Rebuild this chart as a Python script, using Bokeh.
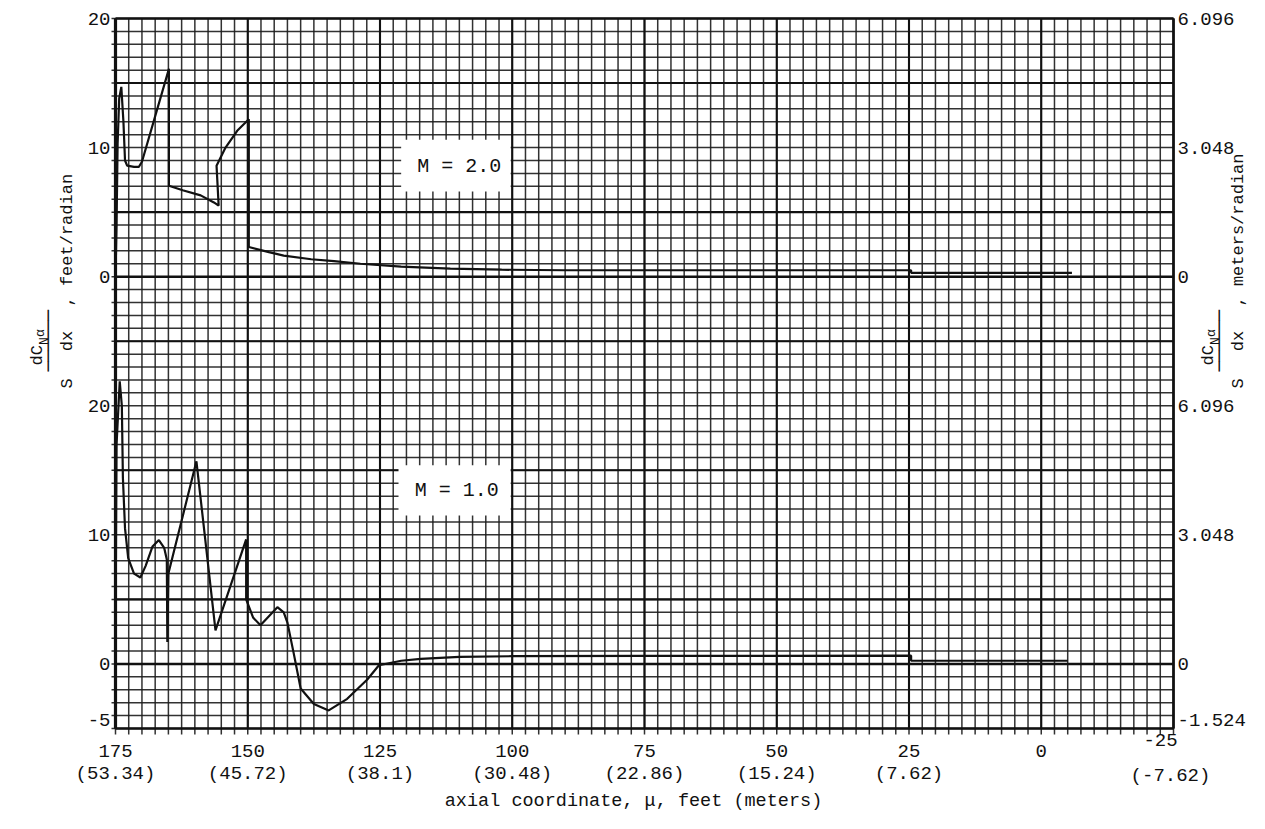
from bokeh.plotting import figure
from bokeh.models import Range1d
from bokeh.core.properties import value
from bokeh.embed import file_html
from bokeh.resources import INLINE
import numpy as np

# ---------------- data ----------------
# M = 2.0 (upper panel): axial coordinate (feet) and S dCNa/dx (feet/radian)
m2_x = [175.0, 174.8, 174.6, 174.3, 173.9, 173.5, 173.2, 172.8, 171.5, 170.6, 170.0,
        164.9, 164.9, 162.3, 158.9, 156.4, 155.5, 155.9, 154.2, 152.0, 149.8, 149.8,
        146.0, 143.2, 138.0, 133.7, 128.7, 121.0, 111.7, 102.0, 90.0, 70.0, 50.0,
        24.6, 24.6, 10.0, -5.8]
m2_y = [0.0, 4.0, 10.3, 13.8, 14.7, 12.0, 9.0, 8.6, 8.5, 8.5, 8.9,
        16.1, 7.05, 6.7, 6.3, 5.75, 5.5, 8.6, 10.0, 11.3, 12.2, 2.3,
        1.9, 1.63, 1.35, 1.2, 1.0, 0.78, 0.62, 0.54, 0.5, 0.5, 0.5,
        0.5, 0.3, 0.3, 0.3]

# M = 1.0 (lower panel)
m1_x = [175.0, 174.9, 174.8, 174.2, 173.8, 173.6, 173.2, 172.6, 171.5, 170.3, 169.3,
        168.0, 166.8, 165.8, 165.3, 165.2, 165.0, 159.7, 156.1, 150.3, 150.3, 149.0,
        147.6, 146.0, 144.4, 143.2, 142.5, 141.3, 140.0, 137.5, 134.7, 131.2, 127.4,
        125.2, 121.0, 117.3, 110.0, 100.0, 75.0, 50.0, 24.6, 24.6, 10.0, -5.0]
m1_y = [0.0, 10.0, 17.0, 21.9, 20.0, 14.4, 10.5, 8.2, 7.0, 6.7, 7.6,
        9.1, 9.6, 9.0, 8.1, 1.7, 7.0, 15.7, 2.6, 9.65, 5.0, 3.6,
        3.0, 3.7, 4.4, 4.0, 3.2, 0.8, -1.9, -3.1, -3.6, -2.7, -1.2,
        -0.1, 0.25, 0.4, 0.55, 0.6, 0.62, 0.62, 0.64, 0.25, 0.25, 0.25]

x_ticks = [175, 150, 125, 100, 75, 50, 25, 0, -25]
x_tick_feet = ["175", "150", "125", "100", "75", "50", "25", "0", "-25"]
x_tick_meters = ["(53.34)", "(45.72)", "(38.1)", "(30.48)", "(22.86)", "(15.24)",
                 "(7.62)", "", "(-7.62)"]

upper_offset = 30          # upper panel's zero sits 30 units above the lower panel's zero
upper_tick_vals = [0, 10, 20]
lower_tick_vals = [-5, 0, 10, 20]
left_labels_upper = ["0", "10", "20"]
left_labels_lower = ["-5", "0", "10", "20"]
right_labels_upper = ["0", "3.048", "6.096"]
right_labels_lower = ["-1.524", "0", "3.048", "6.096"]

panel_titles = ["M = 2.0", "M = 1.0"]
x_title = "axial coordinate, \u03bc, feet (meters)"

FONT = "Liberation Mono"
INK = "#111111"

# ---------------- geometry (canvas pixels) ----------------
W, H = 1249, 813
FL, FR, FT, FB = 115, 1173, 18, 728          # graph-paper area inside the canvas
X0, X1 = 175.0, -25.0                         # feet, reversed axis
Y0, Y1 = -5.0, 50.0
ppx = (FR - FL) / (X0 - X1)
ppy = (FB - FT) / (Y1 - Y0)

p = figure(width=W, height=H,
           x_range=Range1d(X0 + FL / ppx, X1 - (W - FR) / ppx),
           y_range=Range1d(Y0 - (H - FB) / ppy, Y1 + FT / ppy),
           output_backend="svg", toolbar_location=None,
           x_axis_location=None, y_axis_location=None,
           min_border=0, min_border_left=0, min_border_right=0,
           min_border_top=0, min_border_bottom=0)
p.grid.visible = False
p.outline_line_color = None
p.background_fill_color = "white"
p.border_fill_color = "white"


def px2x(xp):   # canvas x pixel -> data x
    return X0 - (xp - FL) / ppx


def py2y(yp):   # canvas y pixel -> data y
    return Y1 - (yp - FT) / ppy


# ---------------- graph paper ----------------
minor_x = np.arange(X1, X0 + 0.01, 2.5)
major_x = np.arange(X1, X0 + 0.01, 25.0)
minor_y = np.arange(Y0, Y1 + 0.01, 1.0)
major_y = np.arange(Y0 + 10, Y1, 10.0)
ext_b = 6 / ppy
ext_l = 4 / ppx
p.segment(x0=minor_x, y0=np.full(len(minor_x), Y0 - ext_b), x1=minor_x, y1=np.full(len(minor_x), Y1),
          line_color="#1c1c1c", line_width=1.5, line_alpha=0.9)
p.segment(x0=np.full(len(minor_y), X0 + ext_l), y0=minor_y, x1=np.full(len(minor_y), X1), y1=minor_y,
          line_color="#1c1c1c", line_width=1.5, line_alpha=0.9)
p.segment(x0=major_x, y0=np.full(len(major_x), Y0), x1=major_x, y1=np.full(len(major_x), Y1),
          line_color=INK, line_width=2.1)
p.segment(x0=np.full(len(major_y), X0), y0=major_y, x1=np.full(len(major_y), X1), y1=major_y,
          line_color=INK, line_width=2.1)
# frame
p.segment(x0=[X0, X1, X0, X0], y0=[Y0, Y0, Y1, Y0], x1=[X0, X1, X1, X1], y1=[Y1, Y1, Y1, Y0],
          line_color=INK, line_width=[3.2, 2.4, 2.4, 2.4])
# zero lines of both panels
p.segment(x0=[X0, X0], y0=[0, upper_offset], x1=[X1, X1], y1=[0, upper_offset],
          line_color=INK, line_width=2.4)

# ---------------- panel title boxes ----------------
box_specs = [(121.0, 100.3, 36.6, 40.6, 110.0, 38.5),
             (121.5, 100.3, 11.5, 15.4, 110.5, 13.4)]
for title, (l, r, b, t, tx, ty) in zip(panel_titles, box_specs):
    p.quad(left=[l], right=[r], bottom=[b], top=[t], fill_color="white", line_color=None)
    p.text(x=[tx], y=[ty], text=[title], text_font=value(FONT), text_font_size="20px",
           text_align="center", text_baseline="middle", text_color=INK)

# ---------------- curves ----------------
p.line(m2_x, [v + upper_offset for v in m2_y], line_color=INK, line_width=2.2)
p.line(m1_x, m1_y, line_color=INK, line_width=2.2)

# ---------------- tick labels ----------------
tk = dict(text_font=value(FONT), text_font_size="19px", text_color=INK,
          text_baseline="middle")
row1 = Y0 - 22 / ppy
row2 = Y0 - 45 / ppy
fx = [t for t in x_ticks if t != -25]
p.text(x=fx, y=[row1] * len(fx), text=[s for t, s in zip(x_ticks, x_tick_feet) if t != -25],
       text_align="center", **tk)
mx = [t for t, s in zip(x_ticks, x_tick_meters) if s and t != -25]
p.text(x=mx, y=[row2] * len(mx), text=[s for t, s in zip(x_ticks, x_tick_meters) if s and t != -25],
       text_align="center", **tk)
# last tick (-25) is written a little higher and to the left
p.text(x=[-25 + 13 / ppx], y=[Y0 - 11 / ppy], text=[x_tick_feet[-1]], text_align="center", **tk)
p.text(x=[-25 + 3 / ppx], y=[Y0 - 47 / ppy], text=[x_tick_meters[-1]], text_align="center", **tk)

ly = lower_tick_vals + [v + upper_offset for v in upper_tick_vals]
ly_draw = [v + (9 / ppy if v == Y0 else 0) for v in ly]
p.text(x=[X0 + 5 / ppx] * len(ly), y=ly_draw, text=left_labels_lower + left_labels_upper,
       text_align="right", **tk)
p.text(x=[X1 - 4 / ppx] * len(ly), y=ly_draw, text=right_labels_lower + right_labels_upper,
       text_align="left", **tk)

# x title
p.text(x=[px2x(633)], y=[py2y(801)], text=[x_title], text_font=value(FONT),
       text_font_size="18.5px", text_color=INK, text_align="center", text_baseline="middle")


# ---------------- rotated y titles ----------------
def add_title(main_px, num_px, bar_px, start_py, tail):
    ch = 10.2
    rot = dict(angle=np.pi / 2, text_align="left", text_baseline="alphabetic",
               text_color=INK, text_font=value(FONT))
    p.text(x=[px2x(main_px)], y=[py2y(start_py)], text=["S"], text_font_size="17px", **rot)
    f_start = start_py - 17
    bar_len = 61
    p.text(x=[px2x(bar_px)], y=[py2y(f_start)], text=["\u2500" * 6], angle=np.pi / 2,
           text_align="left", text_baseline="middle", text_color=INK,
           text_font=value("DejaVu Sans Mono"), text_font_size="17px")
    p.text(x=[px2x(num_px)], y=[py2y(f_start - 6)], text=["dC"], text_font_size="17px", **rot)
    p.text(x=[px2x(num_px + 7)], y=[py2y(f_start - 6 - 2 * ch)], text=["N"],
           text_font_size="13px", **rot)
    p.text(x=[px2x(num_px + 3)], y=[py2y(f_start - 6 - 2 * ch - 8)], text=["\u03b1"],
           text_font_size="13px", **rot)
    p.text(x=[px2x(main_px)], y=[py2y(f_start - bar_len / 2 + ch)], text=["dx"],
           text_font_size="17px", **rot)
    p.text(x=[px2x(main_px)], y=[py2y(f_start - bar_len - 4)], text=[tail],
           text_font_size="17px", **rot)


add_title(67, 37, 47, 388, ", feet/radian")
add_title(1238, 1208, 1218, 388, ", meters/radian")

open("out.html", "w").write(file_html(p, INLINE))
